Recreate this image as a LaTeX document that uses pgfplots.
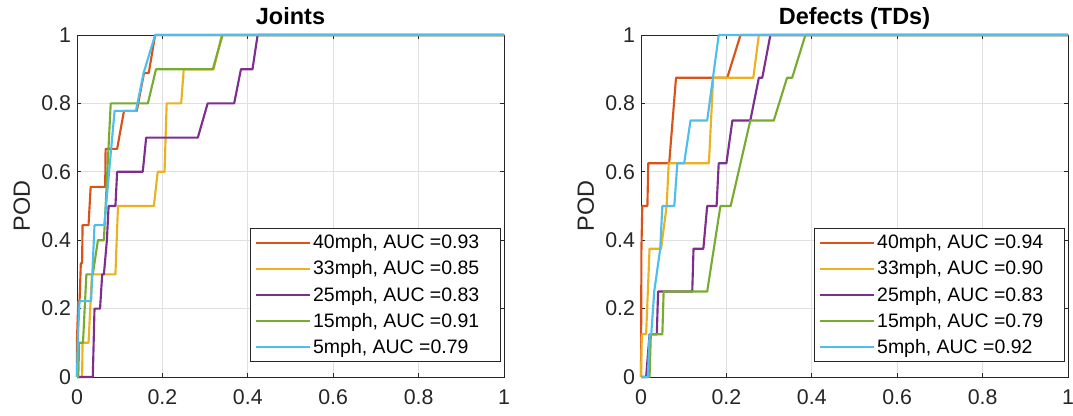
\documentclass[border=0pt]{standalone}
\usepackage{pgfplots}
\pgfplotsset{compat=1.18}
\usepackage{fontspec}
\setmainfont{Liberation Sans}
\definecolor{c1}{rgb}{0.850,0.325,0.098}
\definecolor{c2}{rgb}{0.929,0.694,0.125}
\definecolor{c3}{rgb}{0.494,0.184,0.556}
\definecolor{c4}{rgb}{0.466,0.674,0.188}
\definecolor{c5}{rgb}{0.301,0.745,0.933}
\definecolor{axc}{rgb}{0.15,0.15,0.15}
\newcommand{\lpad}{\rule{11pt}{0pt}}
\pgfplotsset{
  rocax/.style={
    scale only axis, width=320.25pt, height=256.5pt,
    xmin=0, xmax=1, ymin=0, ymax=1, clip=false,
    xtick={0,0.2,0.4,0.6,0.8,1}, ytick={0,0.2,0.4,0.6,0.8,1},
    grid=major, major grid style={color=black!12, line width=0.5pt},
    axis line style={color=axc, line width=0.6pt},
    tick style={color=axc, line width=0.6pt}, tick align=inside, major tick length=3pt,
    /pgf/number format/assume math mode=true,
    ticklabel style={font=\fontsize{16}{18}\selectfont, color=axc},
    xticklabel style={yshift=-6pt},
    yticklabel style={xshift=-1pt},
    every axis title/.style={font=\fontsize{17.6}{20}\selectfont\bfseries, at={(axis description cs:0.5,1.03)}, anchor=base},
    ylabel style={font=\fontsize{17.6}{20}\selectfont, color=axc, at={(axis description cs:-0.1295,0.5)}, anchor=center},
    legend style={at={(0.993,0.044)}, anchor=south east, draw=axc, line width=0.6pt, fill=white,
      font=\fontsize{14.6}{17}\selectfont, inner xsep=3pt, inner ysep=2.5pt, row sep=3.6pt},
    legend cell align=left,
    every axis plot/.append style={line width=1.6pt, line join=round},
    legend image code/.code={\draw[#1, line width=1.5pt] (0pt,0pt) -- (40.5pt,0pt);},
  }
}
\begin{document}
\begin{tikzpicture}
\begin{axis}[rocax, at={(0,0)}, anchor=south west, title={Joints}, ylabel={POD}]
\addplot[c1] coordinates {(0,0)(0,0.111)(0.003,0.222)(0.006,0.222)(0.009,0.333)(0.012,0.333)(0.013,0.444)(0.027,0.444)(0.032,0.556)(0.066,0.556)(0.067,0.667)(0.094,0.667)(0.110,0.778)(0.140,0.778)(0.157,0.889)(0.168,0.889)(0.183,1)(1,1)};
\addlegendentry{40mph, AUC =0.93\lpad}
\addplot[c2] coordinates {(0,0)(0.012,0)(0.013,0.1)(0.027,0.1)(0.035,0.3)(0.090,0.3)(0.096,0.5)(0.180,0.5)(0.189,0.6)(0.205,0.6)(0.210,0.8)(0.244,0.8)(0.250,0.9)(0.320,0.9)(0.339,1)(1,1)};
\addlegendentry{33mph, AUC =0.85\lpad}
\addplot[c3] coordinates {(0,0)(0.037,0)(0.041,0.2)(0.054,0.2)(0.059,0.3)(0.063,0.3)(0.070,0.4)(0.074,0.5)(0.090,0.5)(0.094,0.6)(0.154,0.6)(0.162,0.7)(0.283,0.7)(0.306,0.8)(0.368,0.8)(0.384,0.9)(0.411,0.9)(0.423,1)(1,1)};
\addlegendentry{25mph, AUC =0.83\lpad}
\addplot[c4] coordinates {(0,0)(0.003,0)(0.005,0.1)(0.014,0.1)(0.022,0.3)(0.037,0.3)(0.049,0.4)(0.063,0.4)(0.079,0.8)(0.166,0.8)(0.185,0.9)(0.318,0.9)(0.341,1)(1,1)};
\addlegendentry{15mph, AUC =0.91\lpad}
\addplot[c5] coordinates {(0,0)(0.002,0.111)(0.006,0.222)(0.033,0.222)(0.041,0.444)(0.064,0.444)(0.072,0.556)(0.088,0.778)(0.138,0.778)(0.156,0.889)(0.183,1)(1,1)};
\addlegendentry{5mph, AUC =0.79\lpad}
\end{axis}
\begin{axis}[rocax, at={(423pt,0)}, anchor=south west, title={Defects (TDs)}, ylabel={POD}]
\addplot[c1] coordinates {(0,0)(0.001,0.375)(0.003,0.5)(0.015,0.5)(0.017,0.625)(0.066,0.625)(0.082,0.875)(0.202,0.875)(0.233,1)(1,1)};
\addlegendentry{40mph, AUC =0.94\lpad}
\addplot[c2] coordinates {(0,0)(0.002,0.125)(0.012,0.125)(0.016,0.25)(0.020,0.375)(0.047,0.375)(0.060,0.5)(0.065,0.625)(0.159,0.625)(0.169,0.875)(0.263,0.875)(0.276,1)(1,1)};
\addlegendentry{33mph, AUC =0.90\lpad}
\addplot[c3] coordinates {(0,0)(0.012,0)(0.020,0.125)(0.037,0.125)(0.040,0.25)(0.120,0.25)(0.123,0.375)(0.146,0.375)(0.155,0.5)(0.177,0.5)(0.182,0.625)(0.200,0.625)(0.214,0.75)(0.256,0.75)(0.276,0.875)(0.284,0.875)(0.303,1)(1,1)};
\addlegendentry{25mph, AUC =0.83\lpad}
\addplot[c4] coordinates {(0,0)(0.020,0)(0.023,0.125)(0.050,0.125)(0.053,0.25)(0.155,0.25)(0.186,0.5)(0.210,0.5)(0.256,0.75)(0.311,0.75)(0.342,0.875)(0.354,0.875)(0.385,1)(1,1)};
\addlegendentry{15mph, AUC =0.79\lpad}
\addplot[c5] coordinates {(0,0)(0.016,0)(0.020,0.125)(0.024,0.125)(0.031,0.25)(0.045,0.375)(0.050,0.5)(0.078,0.5)(0.085,0.625)(0.101,0.625)(0.116,0.75)(0.155,0.75)(0.182,1)(1,1)};
\addlegendentry{5mph, AUC =0.92\lpad}
\end{axis}
\pgfresetboundingbox
\path (-57.75pt,-29.25pt) rectangle (747pt,282.75pt);
\end{tikzpicture}
\end{document}
